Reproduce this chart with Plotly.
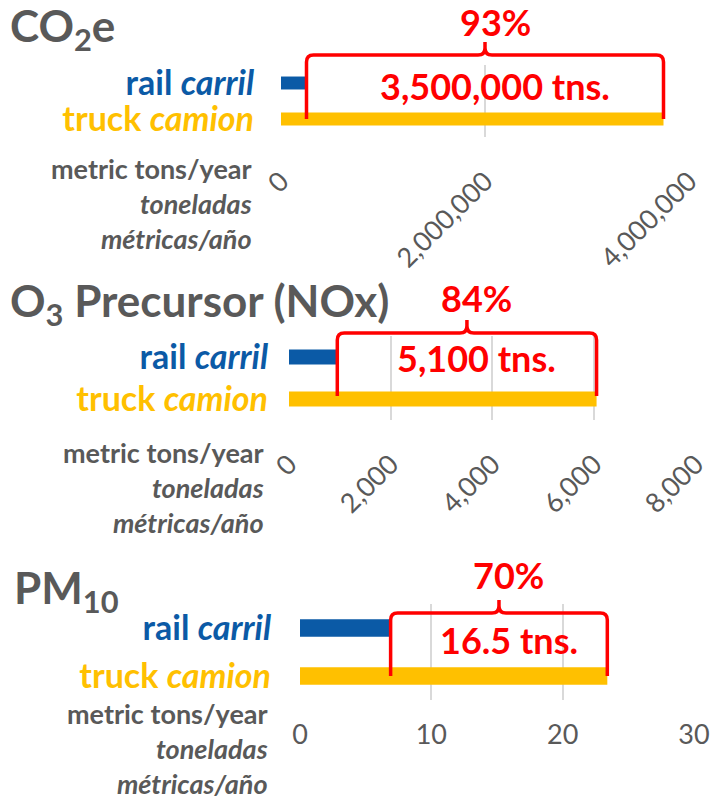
import plotly.graph_objects as go

# ---------------- data ----------------
categories = ["rail", "truck"]
co2_values = [250000, 3750000]          # metric tons / year
nox_values = [950, 6050]
pm10_values = [6.9, 23.4]

co2_ticks = [0, 2000000, 4000000]
co2_ticktext = ["0", "2,000,000", "4,000,000"]
nox_ticks = [0, 2000, 4000, 6000, 8000]
nox_ticktext = ["0", "2,000", "4,000", "6,000", "8,000"]
pm_ticks = [0, 10, 20, 30]
pm_ticktext = ["0", "10", "20", "30"]

titles = ["CO<sub>2</sub>e", "O<sub>3</sub> Precursor (NOx)", "PM<sub>10</sub>"]
pct_labels = ["93%", "84%", "70%"]
diff_labels = ["3,500,000 tns.", "5,100 tns.", "16.5 tns."]
cat_ticktext = ["<b>rail <i>carril</i></b>", "<b>truck <i>camion</i></b>"]
unit_text = "<b>metric tons/year<br><i>toneladas<br>métricas/año</i></b>"

# ---------------- style ----------------
W, H = 712, 796
BLUE = "#0B5AA6"
YELLOW = "#FFC000"
GRAY = "#595959"
RED = "#FF0000"
GRID = "#D9D9D9"
FONT = "Lato"

def py(p):  # pixel y -> paper
    return 1 - p / H

def px(p):
    return p / W

panels = [
    dict(vals=co2_values, ticks=co2_ticks, ticktext=co2_ticktext, rng=[0, 4000000],
         x0=281, x1=689, y0=65, y1=137, angle=-45, standoff=22, catstand=26,
         title_y=28, title_x=8, unit_x=254, unit_y=203,
         br_top=55, br_bot=119, br_peak=42, pct_y=22, diff_y=86),
    dict(vals=nox_values, ticks=nox_ticks, ticktext=nox_ticktext, rng=[0, 8000],
         x0=289, x1=695.7, y0=336, y1=420, angle=-45, standoff=22, catstand=20,
         title_y=303, title_x=8, unit_x=266, unit_y=487,
         br_top=333, br_bot=396, br_peak=320, pct_y=298, diff_y=358),
    dict(vals=pm10_values, ticks=pm_ticks, ticktext=pm_ticktext, rng=[0, 30],
         x0=300, x1=694, y0=604, y1=700, angle=0, standoff=16, catstand=28,
         title_y=590, title_x=12, unit_x=270, unit_y=748,
         br_top=613, br_bot=676, br_peak=600, pct_y=575, diff_y=640),
]

fig = go.Figure()
shapes = []
annotations = []

for i, p in enumerate(panels, start=1):
    xa = "x" if i == 1 else f"x{i}"
    ya = "y" if i == 1 else f"y{i}"
    fig.add_trace(go.Bar(
        x=p["vals"], y=categories, orientation="h",
        marker=dict(color=[BLUE, YELLOW], line=dict(width=0)),
        width=0.36, xaxis=xa, yaxis=ya, showlegend=False, hoverinfo="x+y",
    ))
    xkey = "xaxis" if i == 1 else f"xaxis{i}"
    ykey = "yaxis" if i == 1 else f"yaxis{i}"
    fig.update_layout(**{
        xkey: dict(domain=[px(p["x0"]), px(p["x1"])], range=p["rng"], anchor=ya,
                   tickvals=p["ticks"], ticktext=p["ticktext"], tickangle=p["angle"],
                   showgrid=True, gridcolor=GRID, gridwidth=1.5, zeroline=False,
                   showline=False, ticks="", ticklabelstandoff=p["standoff"],
                   automargin=False,
                   tickfont=dict(family=FONT, size=27, color=GRAY), fixedrange=True),
        ykey: dict(domain=[py(p["y1"]), py(p["y0"])], anchor=xa, type="category",
                   categoryorder="array", categoryarray=categories, autorange="reversed",
                   tickvals=categories,
                   ticktext=[f"<span style='color:{BLUE}'>{cat_ticktext[0]}</span>",
                             f"<span style='color:{YELLOW}'>{cat_ticktext[1]}</span>"],
                   showgrid=False, zeroline=False, showline=False, ticks="",
                   ticklabelstandoff=p["catstand"], automargin=False,
                   tickfont=dict(family=FONT, size=34), fixedrange=True),
    })

    # title
    annotations.append(dict(text=f"<b>{titles[i-1]}</b>", xref="paper", yref="paper",
                            x=px(p["title_x"]), y=py(p["title_y"]), xanchor="left", yanchor="middle",
                            showarrow=False, font=dict(family=FONT, size=44, color=GRAY)))
    # units
    annotations.append(dict(text=unit_text, xref="paper", yref="paper",
                            x=px(p["unit_x"]), y=py(p["unit_y"]), xanchor="right", yanchor="middle",
                            align="right", showarrow=False,
                            font=dict(family=FONT, size=27, color=GRAY)))

    # bracket from rail value to truck value
    xl, xr = p["vals"][0], p["vals"][1]
    xc = (xl + xr) / 2
    xpp = (p["rng"][1] - p["rng"][0]) / (p["x1"] - p["x0"])  # data per pixel
    r = 7
    rx, ry = r * xpp, r / H
    top, bot, peak = py(p["br_top"]), py(p["br_bot"]), py(p["br_peak"])
    path = (f"M {xl},{bot} L {xl},{top - ry} Q {xl},{top} {xl + rx},{top} "
            f"L {xc - rx},{top} Q {xc},{top} {xc},{top + ry} L {xc},{peak} "
            f"M {xc},{top + ry} Q {xc},{top} {xc + rx},{top} "
            f"L {xr - rx},{top} Q {xr},{top} {xr},{top - ry} L {xr},{bot}")
    shapes.append(dict(type="path", path=path, xref=xa, yref="paper",
                       line=dict(color=RED, width=3.5)))
    annotations.append(dict(text=f"<b>{pct_labels[i-1]}</b>", xref=xa, yref="paper",
                            x=xc + 10 * xpp, y=py(p["pct_y"]), xanchor="center", yanchor="middle",
                            showarrow=False, font=dict(family=FONT, size=36, color=RED)))
    annotations.append(dict(text=f"<b>{diff_labels[i-1]}</b>", xref=xa, yref="paper",
                            x=xc + 10 * xpp, y=py(p["diff_y"]), xanchor="center", yanchor="middle",
                            showarrow=False, font=dict(family=FONT, size=36, color=RED)))

fig.update_layout(width=W, height=H, margin=dict(l=0, r=0, t=0, b=0),
                  paper_bgcolor="white", plot_bgcolor="white",
                  shapes=shapes, annotations=annotations, bargap=0.3)

fig.write_html("out.html", config={"displayModeBar": False},
               post_script="document.body.style.margin='0';document.body.style.padding='0';")
